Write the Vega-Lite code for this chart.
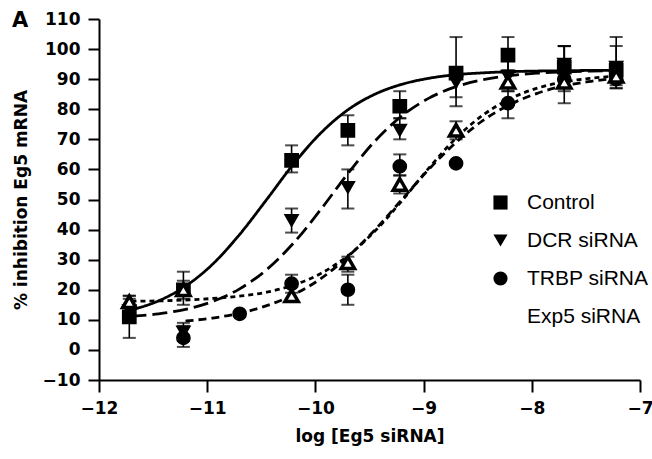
{
  "$schema": "https://vega.github.io/schema/vega-lite/v6.json",
  "width": 541,
  "height": 361,
  "autosize": {"type": "none"},
  "padding": {"left": 99, "top": 19, "right": 12, "bottom": 79},
  "background": "white",
  "config": {
    "view": {"stroke": null},
    "font": "Liberation Sans",
    "axis": {"grid": false, "domainColor": "black", "domainWidth": 2, "tickColor": "black", "tickWidth": 2, "labelOverlap": false, "labelBound": false, "labelFlush": false,
             "labelFont": "DejaVu Sans", "labelFontWeight": "bold", "labelFontSize": 17, "labelColor": "black",
             "titleFont": "DejaVu Sans", "titleFontWeight": "bold", "titleFontSize": 17, "titleColor": "black"}
  },
  "title": {"text": "A", "anchor": "start", "frame": "bounds", "fontSize": 21, "font": "DejaVu Sans", "fontWeight": "bold", "color": "black", "baseline": "alphabetic", "offset": 0, "dy": 38},
  "datasets": {
    "curves": [
      {"series": "Control", "logc": -11.7, "y": 13.3}, {"series": "Control", "logc": -11.45, "y": 16.3}, {"series": "Control", "logc": -11.2, "y": 21.2}, {"series": "Control", "logc": -10.95, "y": 28.5}, {"series": "Control", "logc": -10.7, "y": 38.4}, {"series": "Control", "logc": -10.45, "y": 50.0}, {"series": "Control", "logc": -10.2, "y": 61.9}, {"series": "Control", "logc": -9.95, "y": 72.1}, {"series": "Control", "logc": -9.7, "y": 79.8}, {"series": "Control", "logc": -9.45, "y": 85.0}, {"series": "Control", "logc": -9.2, "y": 88.3}, {"series": "Control", "logc": -8.95, "y": 90.3}, {"series": "Control", "logc": -8.7, "y": 91.5}, {"series": "Control", "logc": -8.45, "y": 92.1}, {"series": "Control", "logc": -8.2, "y": 92.5}, {"series": "Control", "logc": -7.95, "y": 92.7}, {"series": "Control", "logc": -7.7, "y": 92.8}, {"series": "Control", "logc": -7.45, "y": 92.9}, {"series": "Control", "logc": -7.2, "y": 92.9},
      {"series": "DCR siRNA", "logc": -11.7, "y": 11.2}, {"series": "DCR siRNA", "logc": -11.45, "y": 12.0}, {"series": "DCR siRNA", "logc": -11.2, "y": 13.5}, {"series": "DCR siRNA", "logc": -10.95, "y": 16.1}, {"series": "DCR siRNA", "logc": -10.7, "y": 20.3}, {"series": "DCR siRNA", "logc": -10.45, "y": 26.7}, {"series": "DCR siRNA", "logc": -10.2, "y": 35.6}, {"series": "DCR siRNA", "logc": -9.95, "y": 46.7}, {"series": "DCR siRNA", "logc": -9.7, "y": 58.6}, {"series": "DCR siRNA", "logc": -9.45, "y": 69.4}, {"series": "DCR siRNA", "logc": -9.2, "y": 77.8}, {"series": "DCR siRNA", "logc": -8.95, "y": 83.7}, {"series": "DCR siRNA", "logc": -8.7, "y": 87.5}, {"series": "DCR siRNA", "logc": -8.45, "y": 89.8}, {"series": "DCR siRNA", "logc": -8.2, "y": 91.2}, {"series": "DCR siRNA", "logc": -7.95, "y": 92.0}, {"series": "DCR siRNA", "logc": -7.7, "y": 92.4}, {"series": "DCR siRNA", "logc": -7.45, "y": 92.7}, {"series": "DCR siRNA", "logc": -7.2, "y": 92.8},
      {"series": "TRBP siRNA", "logc": -11.2, "y": 9.6}, {"series": "TRBP siRNA", "logc": -10.95, "y": 10.6}, {"series": "TRBP siRNA", "logc": -10.7, "y": 12.2}, {"series": "TRBP siRNA", "logc": -10.45, "y": 14.7}, {"series": "TRBP siRNA", "logc": -10.2, "y": 18.4}, {"series": "TRBP siRNA", "logc": -9.95, "y": 23.7}, {"series": "TRBP siRNA", "logc": -9.7, "y": 31.0}, {"series": "TRBP siRNA", "logc": -9.45, "y": 39.9}, {"series": "TRBP siRNA", "logc": -9.2, "y": 50.0}, {"series": "TRBP siRNA", "logc": -8.95, "y": 60.1}, {"series": "TRBP siRNA", "logc": -8.7, "y": 69.0}, {"series": "TRBP siRNA", "logc": -8.45, "y": 76.3}, {"series": "TRBP siRNA", "logc": -8.2, "y": 81.6}, {"series": "TRBP siRNA", "logc": -7.95, "y": 85.3}, {"series": "TRBP siRNA", "logc": -7.7, "y": 87.8}, {"series": "TRBP siRNA", "logc": -7.45, "y": 89.3}, {"series": "TRBP siRNA", "logc": -7.2, "y": 90.4},
      {"series": "Exp5 siRNA", "logc": -11.7, "y": 16.2}, {"series": "Exp5 siRNA", "logc": -11.45, "y": 16.3}, {"series": "Exp5 siRNA", "logc": -11.2, "y": 16.6}, {"series": "Exp5 siRNA", "logc": -10.95, "y": 17.1}, {"series": "Exp5 siRNA", "logc": -10.7, "y": 17.9}, {"series": "Exp5 siRNA", "logc": -10.45, "y": 19.2}, {"series": "Exp5 siRNA", "logc": -10.2, "y": 21.6}, {"series": "Exp5 siRNA", "logc": -9.95, "y": 25.4}, {"series": "Exp5 siRNA", "logc": -9.7, "y": 31.3}, {"series": "Exp5 siRNA", "logc": -9.45, "y": 39.5}, {"series": "Exp5 siRNA", "logc": -9.2, "y": 49.6}, {"series": "Exp5 siRNA", "logc": -8.95, "y": 60.5}, {"series": "Exp5 siRNA", "logc": -8.7, "y": 70.4}, {"series": "Exp5 siRNA", "logc": -8.45, "y": 78.1}, {"series": "Exp5 siRNA", "logc": -8.2, "y": 83.5}, {"series": "Exp5 siRNA", "logc": -7.95, "y": 87.0}, {"series": "Exp5 siRNA", "logc": -7.7, "y": 89.1}, {"series": "Exp5 siRNA", "logc": -7.45, "y": 90.3}, {"series": "Exp5 siRNA", "logc": -7.2, "y": 91.1}
    ],
    "pts": [
      {"series": "Control", "logc": -11.72, "y": 11, "lo": 4, "hi": 18},
      {"series": "Control", "logc": -11.22, "y": 20, "lo": 15, "hi": 26},
      {"series": "Control", "logc": -10.22, "y": 63, "lo": 59, "hi": 68},
      {"series": "Control", "logc": -9.7, "y": 73, "lo": 68, "hi": 78},
      {"series": "Control", "logc": -9.22, "y": 81, "lo": 77, "hi": 86},
      {"series": "Control", "logc": -8.7, "y": 92, "lo": 84, "hi": 104},
      {"series": "Control", "logc": -8.22, "y": 98, "lo": 93, "hi": 104},
      {"series": "Control", "logc": -7.7, "y": 94, "lo": 87, "hi": 101},
      {"series": "Control", "logc": -7.22, "y": 93, "lo": 87, "hi": 104},
      {"series": "DCR siRNA", "logc": -11.72, "y": 13, "lo": 9, "hi": 17},
      {"series": "DCR siRNA", "logc": -11.22, "y": 6, "lo": 3, "hi": 9},
      {"series": "DCR siRNA", "logc": -10.22, "y": 43, "lo": 39, "hi": 47},
      {"series": "DCR siRNA", "logc": -9.7, "y": 54, "lo": 47, "hi": 60},
      {"series": "DCR siRNA", "logc": -9.22, "y": 73, "lo": 70, "hi": 77},
      {"series": "DCR siRNA", "logc": -8.7, "y": 89, "lo": 81, "hi": 93},
      {"series": "DCR siRNA", "logc": -8.22, "y": 91, "lo": 88, "hi": 97},
      {"series": "DCR siRNA", "logc": -7.7, "y": 95, "lo": 90, "hi": 101},
      {"series": "DCR siRNA", "logc": -7.22, "y": 94, "lo": 90, "hi": 101},
      {"series": "TRBP siRNA", "logc": -11.22, "y": 4, "lo": 1, "hi": 8},
      {"series": "TRBP siRNA", "logc": -10.7, "y": 12, "lo": 12, "hi": 12},
      {"series": "TRBP siRNA", "logc": -10.22, "y": 22, "lo": 19, "hi": 25},
      {"series": "TRBP siRNA", "logc": -9.7, "y": 20, "lo": 15, "hi": 25},
      {"series": "TRBP siRNA", "logc": -9.22, "y": 61, "lo": 58, "hi": 65},
      {"series": "TRBP siRNA", "logc": -8.7, "y": 62, "lo": 62, "hi": 62},
      {"series": "TRBP siRNA", "logc": -8.22, "y": 82, "lo": 77, "hi": 86},
      {"series": "TRBP siRNA", "logc": -7.7, "y": 90, "lo": 86, "hi": 94},
      {"series": "TRBP siRNA", "logc": -7.22, "y": 90, "lo": 87, "hi": 93},
      {"series": "Exp5 siRNA", "logc": -11.72, "y": 16, "lo": 14, "hi": 18},
      {"series": "Exp5 siRNA", "logc": -11.22, "y": 20, "lo": 17, "hi": 23},
      {"series": "Exp5 siRNA", "logc": -10.22, "y": 18, "lo": 16, "hi": 21},
      {"series": "Exp5 siRNA", "logc": -9.7, "y": 29, "lo": 26, "hi": 31},
      {"series": "Exp5 siRNA", "logc": -9.22, "y": 55, "lo": 52, "hi": 58},
      {"series": "Exp5 siRNA", "logc": -8.7, "y": 73, "lo": 70, "hi": 76},
      {"series": "Exp5 siRNA", "logc": -8.22, "y": 89, "lo": 86, "hi": 92},
      {"series": "Exp5 siRNA", "logc": -7.7, "y": 89, "lo": 82, "hi": 101},
      {"series": "Exp5 siRNA", "logc": -7.22, "y": 91, "lo": 88, "hi": 95}
    ]
  },
  "encoding": {
    "x": {"field": "logc", "type": "quantitative", "scale": {"domain": [-12, -7], "nice": false, "zero": false},
          "axis": {"title": "log [Eg5 siRNA]", "values": [-12, -11, -10, -9, -8, -7], "tickSize": 12, "labelPadding": 8, "titlePadding": 12, "labelFlush": false}},
    "y": {"field": "y", "type": "quantitative", "scale": {"domain": [-10, 110], "nice": false, "zero": false},
          "axis": {"title": "% inhibition Eg5 mRNA", "values": [-10, 0, 10, 20, 30, 40, 50, 60, 70, 80, 90, 100, 110], "tickSize": 11, "labelPadding": 8, "titlePadding": 12, "labelOverlap": false, "labelSeparation": -25, "labelFlush": false}}
  },
  "layer": [
    {
      "data": {"name": "curves"},
      "mark": {"type": "line", "color": "black", "strokeWidth": 2.8, "interpolate": "monotone", "clip": false},
      "encoding": {
        "detail": {"field": "series"},
        "strokeDash": {"field": "series", "type": "nominal", "legend": null,
          "scale": {"domain": ["DCR siRNA", "Control", "Exp5 siRNA", "TRBP siRNA"], "range": [[15, 6], [1, 0], [5, 4], [8, 5]]}}
      }
    },
    {
      "data": {"name": "pts"},
      "mark": {"type": "rule", "color": "black", "strokeWidth": 1.6},
      "encoding": {"y": {"field": "lo", "type": "quantitative"}, "y2": {"field": "hi"}}
    },
    {
      "data": {"name": "pts"},
      "mark": {"type": "tick", "orient": "horizontal", "color": "black", "size": 13, "thickness": 2},
      "encoding": {"y": {"field": "lo", "type": "quantitative"}}
    },
    {
      "data": {"name": "pts"},
      "mark": {"type": "tick", "orient": "horizontal", "color": "black", "size": 13, "thickness": 2},
      "encoding": {"y": {"field": "hi", "type": "quantitative"}}
    },
    {
      "data": {"name": "pts"},
      "mark": {"type": "point", "filled": false, "color": "black", "stroke": "black", "size": 175, "opacity": 1, "fillOpacity": 1, "strokeOpacity": 1},
      "encoding": {
        "fill": {"field": "series", "type": "nominal", "title": null,
          "scale": {"domain": ["Control", "DCR siRNA", "TRBP siRNA", "Exp5 siRNA"], "range": ["black", "black", "black", "white"]}},
        "strokeWidth": {"condition": {"test": "datum.series === 'Exp5 siRNA'", "value": 3.5}, "value": 1.5},
        "shape": {"field": "series", "type": "nominal", "title": null,
          "scale": {"domain": ["Control", "DCR siRNA", "TRBP siRNA", "Exp5 siRNA"], "range": ["square", "triangle-down", "circle", "triangle-up"]},
          "legend": {"orient": "none", "legendX": 391, "legendY": 173, "padding": 0, "rowPadding": 14,
            "symbolSize": 200, "symbolStrokeWidth": 2.5, "symbolStrokeColor": "black", "symbolOpacity": 1,
            "labelFontSize": 21, "labelFont": "Liberation Sans", "labelColor": "black", "labelOffset": 16, "labelLimit": 250}}
      }
    }
  ]
}
